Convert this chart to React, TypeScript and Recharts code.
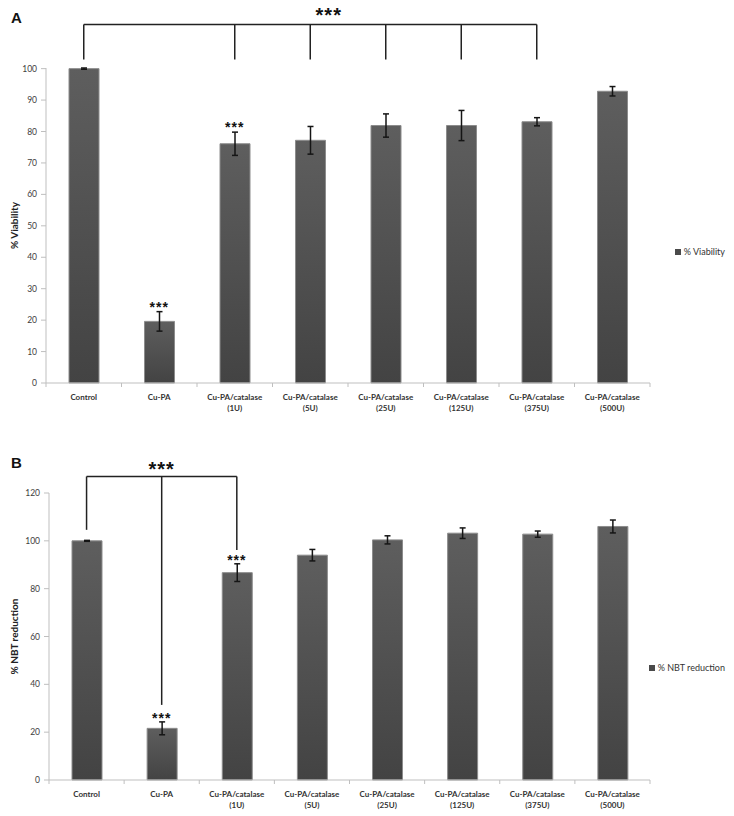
import React from "react";
import {
  Bar,
  BarChart,
  ErrorBar,
  Legend,
  ReferenceDot,
  ReferenceLine,
  XAxis,
  YAxis,
} from "recharts";

const CATEGORIES = [
  "Control",
  "Cu-PA",
  "Cu-PA/catalase (1U)",
  "Cu-PA/catalase (5U)",
  "Cu-PA/catalase (25U)",
  "Cu-PA/catalase (125U)",
  "Cu-PA/catalase (375U)",
  "Cu-PA/catalase (500U)",
];

// panel A
const VIABILITY = [100, 19.6, 76.1, 77.2, 81.9, 81.9, 83.1, 92.8];
const VIABILITY_ERR = [0.2, 3.1, 3.7, 4.4, 3.7, 4.8, 1.3, 1.5];
const VIABILITY_STARS = ["", "***", "***", "", "", "", "", ""];
const VIABILITY_TICKS = [0, 10, 20, 30, 40, 50, 60, 70, 80, 90, 100];
const VIABILITY_BRACKET_TOP = 114;
const VIABILITY_LEGS = [CATEGORIES[0], CATEGORIES[2], CATEGORIES[3], CATEGORIES[4], CATEGORIES[5], CATEGORIES[6]];
const VIABILITY_LEG_ENDS = [102.9, 102.9, 102.9, 102.9, 102.9, 102.9];

// panel B
const NBT = [100, 21.6, 86.7, 94.0, 100.4, 103.2, 102.8, 106.0];
const NBT_ERR = [0.2, 2.7, 3.7, 2.4, 1.7, 2.2, 1.3, 2.7];
const NBT_STARS = ["", "***", "***", "", "", "", "", ""];
const NBT_TICKS = [0, 20, 40, 60, 80, 100, 120];
const NBT_BRACKET_TOP = 126.9;
const NBT_LEGS = [CATEGORIES[0], CATEGORIES[1], CATEGORIES[2]];
const NBT_LEG_ENDS = [104.6, 31.4, 96.2];

const WIDTH = 734;
const YAXIS_W = 36;
const LEGEND_W = 84;
const FONT = "Lato, 'Open Sans', sans-serif";
const STAR_FONT = "'Liberation Sans', Arial, sans-serif";

function CategoryTick(props: any) {
  const { x, y, payload, half, count } = props;
  const text = String(payload.value);
  const cut = text.indexOf(" (");
  const first = cut > 0 ? text.slice(0, cut) : text;
  const second = cut > 0 ? text.slice(cut + 1) : "";
  return (
    <g>
      <line x1={x - half} x2={x - half} y1={y} y2={y + 4} stroke="#bfbfbf" />
      {payload.index === count - 1 ? (
        <line x1={x + half} x2={x + half} y1={y} y2={y + 4} stroke="#bfbfbf" />
      ) : null}
      <text x={x} y={y + 16.5} textAnchor="middle" fontFamily={FONT} fontWeight="bold" fontSize={8} fill="#333">
        {first}
      </text>
      {second ? (
        <text x={x} y={y + 27.5} textAnchor="middle" fontFamily={FONT} fontWeight="bold" fontSize={8} fill="#333">
          {second}
        </text>
      ) : null}
    </g>
  );
}

function AxisTitle(props: any) {
  const { viewBox, text, baseX } = props;
  const cy = viewBox.y + viewBox.height / 2;
  return (
    <text
      x={baseX}
      y={cy}
      transform={`rotate(-90, ${baseX}, ${cy})`}
      textAnchor="middle"
      fontFamily={FONT}
      fontWeight="bold"
      fontSize={10}
      fill="#222"
    >
      {text}
    </text>
  );
}

function SmallStars(props: any) {
  const { viewBox, text, dy } = props;
  if (!text) return null;
  return (
    <text
      x={viewBox.x}
      y={viewBox.y + dy}
      textAnchor="middle"
      fontFamily={STAR_FONT}
      fontWeight="bold"
      fontSize={14}
      letterSpacing={1}
      fill="#111"
    >
      {text}
    </text>
  );
}

function BigStars(props: any) {
  const { viewBox, shift, dy } = props;
  return (
    <text
      x={viewBox.x + viewBox.width / 2 + shift}
      y={viewBox.y + dy}
      textAnchor="middle"
      fontFamily={STAR_FONT}
      fontWeight="bold"
      fontSize={20}
      letterSpacing={1}
      fill="#111"
    >
      ***
    </text>
  );
}

function LegendItem({ label }: { label: string }) {
  return (
    <div style={{ position: "relative", width: LEGEND_W, height: 12 }}>
      <div
        style={{
          position: "absolute",
          right: 9,
          top: 0,
          whiteSpace: "nowrap",
          display: "flex",
          alignItems: "center",
          gap: 3,
          lineHeight: "12px",
          fontFamily: FONT,
          fontSize: 9,
          color: "#333",
        }}
      >
        <span style={{ display: "inline-block", width: 6, height: 6, background: "#4a4a4a" }} />
        {label}
      </div>
    </div>
  );
}

type PanelProps = {
  id: string;
  values: number[];
  errors: number[];
  stars: string[];
  ticks: number[];
  yLabel: string;
  legendLabel: string;
  bracketTop: number;
  legs: string[];
  legEnds: number[];
  bigStarShift: number;
  bigStarDy: number;
  smallStarDy: number;
  height: number;
  marginTop: number;
  marginLeft: number;
  axisHeight: number;
  legendTop: number;
};

function Panel(p: PanelProps) {
  const data = CATEGORIES.map((name, i) => ({ name, value: p.values[i], err: p.errors[i] }));
  const half = (WIDTH - p.marginLeft - YAXIS_W - LEGEND_W) / CATEGORIES.length / 2;
  const yMax = p.ticks[p.ticks.length - 1];
  return (
    <BarChart
      width={WIDTH}
      height={p.height}
      data={data}
      margin={{ top: p.marginTop, right: 0, left: p.marginLeft, bottom: 0 }}
    >
      <defs>
        <linearGradient id={p.id} x1="0" y1="0" x2="0" y2="1">
          <stop offset="0" stopColor="#5e5e5e" />
          <stop offset="1" stopColor="#434343" />
        </linearGradient>
      </defs>
      <XAxis
        dataKey="name"
        height={p.axisHeight}
        interval={0}
        tickSize={0}
        tickMargin={0}
        tickLine={false}
        axisLine={{ stroke: "#bfbfbf" }}
        tick={<CategoryTick half={half} count={CATEGORIES.length} />}
      />
      <YAxis
        width={YAXIS_W}
        domain={[0, yMax]}
        ticks={p.ticks}
        interval={0}
        tickSize={5}
        tickMargin={4}
        axisLine={{ stroke: "#bfbfbf" }}
        tickLine={{ stroke: "#bfbfbf" }}
        tick={{ fontSize: 8.5, fill: "#404040", fontFamily: FONT }}
        label={<AxisTitle text={p.yLabel} baseX={17.5} />}
      />
      <Legend
        layout="vertical"
        align="right"
        verticalAlign="top"
        width={LEGEND_W}
        wrapperStyle={{ top: p.legendTop }}
        content={() => <LegendItem label={p.legendLabel} />}
      />
      <Bar
        dataKey="value"
        name={p.legendLabel}
        fill={`url(#${p.id})`}
        stroke="#8c8c8c"
        strokeWidth={1}
        barSize={30}
        isAnimationActive={false}
      >
        <ErrorBar dataKey="err" width={3} stroke="#151515" strokeWidth={1.5} isAnimationActive={false} />
      </Bar>
      {p.legs.map((cat, i) => (
        <ReferenceLine
          key={cat}
          segment={[
            { x: cat, y: p.bracketTop },
            { x: cat, y: p.legEnds[i] },
          ]}
          stroke="#222"
          strokeWidth={1.5}
          ifOverflow="visible"
        />
      ))}
      <ReferenceLine
        segment={[
          { x: p.legs[0], y: p.bracketTop },
          { x: p.legs[p.legs.length - 1], y: p.bracketTop },
        ]}
        stroke="#222"
        strokeWidth={1.5}
        ifOverflow="visible"
        label={<BigStars shift={p.bigStarShift} dy={p.bigStarDy} />}
      />
      {data.map((d, i) =>
        p.stars[i] ? (
          <ReferenceDot
            key={d.name}
            x={d.name}
            y={d.value + d.err}
            r={0}
            ifOverflow="visible"
            label={<SmallStars text={p.stars[i]} dy={p.smallStarDy} />}
          />
        ) : null,
      )}
    </BarChart>
  );
}

const letterStyle: React.CSSProperties = {
  position: "absolute",
  left: 11,
  fontFamily: "'Liberation Sans', Arial, sans-serif",
  fontWeight: "bold",
  fontSize: 15,
  lineHeight: "15px",
  color: "#111",
};

export default function App() {
  return (
    <div style={{ position: "absolute", left: 0, top: 0, width: WIDTH, height: 816, background: "#fff" }}>
      <div style={{ position: "absolute", left: 0, top: 0 }}>
        <Panel
          id="gradA"
          values={VIABILITY}
          errors={VIABILITY_ERR}
          stars={VIABILITY_STARS}
          ticks={VIABILITY_TICKS}
          yLabel="% Viability"
          legendLabel="% Viability"
          bracketTop={VIABILITY_BRACKET_TOP}
          legs={VIABILITY_LEGS}
          legEnds={VIABILITY_LEG_ENDS}
          bigStarShift={18.5}
          bigStarDy={-2.5}
          smallStarDy={0}
          height={420}
          marginTop={68}
          marginLeft={10}
          axisHeight={37}
          legendTop={246}
        />
      </div>
      <div style={{ position: "absolute", left: 0, top: 420 }}>
        <Panel
          id="gradB"
          values={NBT}
          errors={NBT_ERR}
          stars={NBT_STARS}
          ticks={NBT_TICKS}
          yLabel="% NBT reduction"
          legendLabel="% NBT reduction"
          bracketTop={NBT_BRACKET_TOP}
          legs={NBT_LEGS}
          legEnds={NBT_LEG_ENDS}
          bigStarShift={0}
          bigStarDy={0}
          smallStarDy={1.5}
          height={396}
          marginTop={73}
          marginLeft={13}
          axisHeight={36}
          legendTop={242}
        />
      </div>
      <div style={{ ...letterStyle, top: 10 }}>A</div>
      <div style={{ ...letterStyle, top: 455 }}>B</div>
    </div>
  );
}
